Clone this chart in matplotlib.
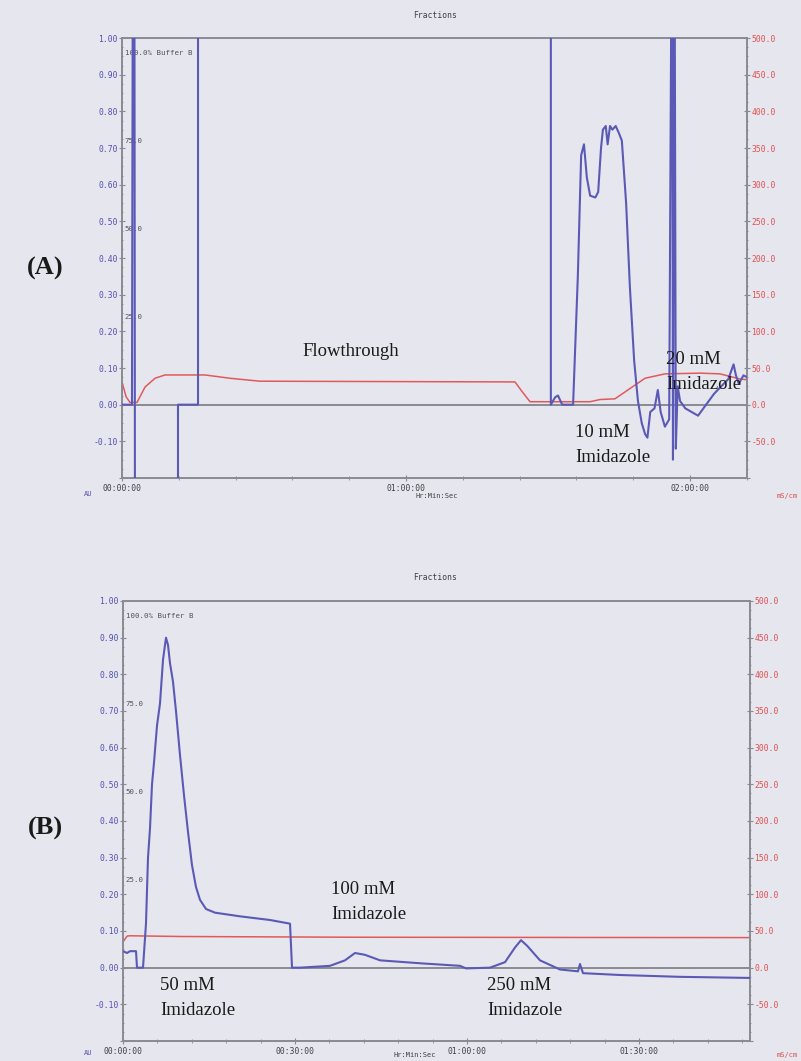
import matplotlib
matplotlib.use('Agg')
import matplotlib.pyplot as plt
from matplotlib.ticker import MultipleLocator, FuncFormatter

# ---------------- Data ----------------
# Panel A: UV trace (time in minutes, absorbance AU)
a_uv_time = [0, 2.11, 2.32, 2.6, 2.75, 3.8, 11.83, 11.83, 16.06, 16.06, 90.6, 90.6, 91.5, 92.1, 93.0,
             95.3, 96.3, 97.0, 97.6, 98.2, 98.9, 100.0, 100.6, 101.2, 101.6, 102.2, 102.6, 103.1,
             103.6, 104.3, 105.0, 105.6, 106.5, 107.3, 108.2, 109.0, 109.8, 110.5, 111.0, 111.6,
             112.5, 113.2, 113.8, 114.7, 115.6, 116.2, 116.4, 116.7, 117.0, 117.4, 117.9, 119.0,
             121.7, 125.1, 128.1, 129.2, 129.7, 130.3, 131.3, 132.0]
a_uv = [0.0, 0.0, 1.5, 1.5, -0.5, -0.5, -0.5, 0.0, 0.0, 1.5, 1.5, 0.0, 0.02, 0.025, 0.0,
        0.0, 0.35, 0.68, 0.71, 0.62, 0.57, 0.565, 0.58, 0.70, 0.75, 0.76, 0.71, 0.76,
        0.75, 0.76, 0.74, 0.72, 0.55, 0.32, 0.12, 0.01, -0.05, -0.08, -0.09, -0.02,
        -0.01, 0.04, -0.02, -0.06, -0.04, 1.5, -0.15, 1.5, -0.12, 0.05, 0.01, -0.01,
        -0.03, 0.03, 0.07, 0.11, 0.08, 0.057, 0.08, 0.075]
# Panel A: conductivity trace (mS/cm)
a_cond_time = [0, 0.85, 1.69, 3.17, 4.86, 6.97, 9.08, 17.54, 22.82, 29.15, 83.03, 84.51, 86.20,
               98.87, 100.99, 104.15, 107.32, 110.49, 114.72, 122.11, 126.34, 130.56, 132.04]
a_cond = [31, 11, 3, 3, 24, 36, 40.5, 40.5, 36, 32, 31, 18, 4,
          4, 7, 8, 22, 36, 42, 43, 42, 35, 34]

# Panel B: UV trace
b_uv_time = [0, 0.70, 1.22, 2.27, 2.44, 3.49, 4.01, 4.36, 4.71, 5.06, 5.41, 5.93, 6.45, 6.98,
             7.50, 7.85, 8.20, 8.72, 9.24, 9.94, 10.64, 11.34, 12.03, 12.73, 13.43, 14.48,
             16.05, 20.41, 25.64, 29.13, 29.48, 30.87, 36.10, 38.72, 40.47, 42.21, 44.83,
             51.80, 58.78, 59.83, 64.01, 66.63, 68.37, 69.42, 70.47, 72.73, 76.22, 79.36,
             79.71, 80.23, 86.69, 97.15, 109.36]
b_uv = [0.045, 0.04, 0.045, 0.045, 0.0, 0.0, 0.12, 0.30, 0.38, 0.50, 0.56, 0.66, 0.72, 0.84,
        0.90, 0.88, 0.83, 0.78, 0.70, 0.58, 0.47, 0.37, 0.28, 0.22, 0.185, 0.16,
        0.15, 0.14, 0.13, 0.12, 0.0, 0.0, 0.005, 0.02, 0.04, 0.035, 0.02,
        0.012, 0.005, -0.002, 0.0, 0.015, 0.055, 0.075, 0.06, 0.02, -0.005, -0.01,
        0.01, -0.015, -0.02, -0.025, -0.028]
# Panel B: conductivity trace
b_cond_time = [0, 0.7, 1.2, 10.0, 40.0, 80.0, 109.36]
b_cond = [35, 43, 43.5, 42.5, 41.5, 41.2, 41]

pct_labels = ["100.0% Buffer B", "75.0", "50.0", "25.0"]
pct_values = [100, 75, 50, 25]

# ---------------- Style ----------------
BG = '#e6e6ef'
BLUE = '#5a5ab6'
RED = '#e05a5a'
GRAY = '#8a8a92'
W, H = 801, 1061
TICKFS = 5.8

fig = plt.figure(figsize=(W / 100, H / 100), dpi=100, facecolor=BG)


def fx(px):
    return px / W


def fy(py):
    return 1 - py / H


def hms(v, pos=None):
    m = int(round(v))
    return "%02d:%02d:00" % (m // 60, m % 60)


def make_panel(left_px, top_px, right_px, bottom_px, xmax, major, minor):
    ax = fig.add_axes([fx(left_px), fy(bottom_px), fx(right_px - left_px),
                       (bottom_px - top_px) / H])
    ax.set_facecolor(BG)
    ax.set_xlim(0, xmax)
    ax.set_ylim(-0.2, 1.0)
    ax.yaxis.set_major_locator(MultipleLocator(0.1))
    ax.yaxis.set_minor_locator(MultipleLocator(0.025))
    ax.yaxis.set_major_formatter(FuncFormatter(
        lambda v, p: "" if v < -0.15 else "%.2f" % (0 if abs(v) < 1e-9 else v)))
    ax.xaxis.set_major_locator(MultipleLocator(major))
    ax.xaxis.set_minor_locator(MultipleLocator(minor))
    ax.xaxis.set_major_formatter(FuncFormatter(hms))
    for s in ax.spines.values():
        s.set_color(GRAY)
        s.set_linewidth(1.4)
    ax.tick_params(axis='y', which='both', direction='inout', colors=GRAY,
                   labelcolor='#5050b0', labelsize=TICKFS, pad=1, length=4)
    ax.tick_params(axis='y', which='minor', length=2)
    ax.tick_params(axis='x', which='both', direction='inout', colors=GRAY,
                   labelcolor='#404040', labelsize=TICKFS, pad=2, length=4)
    ax.tick_params(axis='x', which='minor', length=3)
    for lab in ax.get_xticklabels() + ax.get_yticklabels():
        lab.set_family('DejaVu Sans Mono')
    ax.axhline(0, color=GRAY, lw=1.4, zorder=1)
    ax2 = ax.twinx()
    ax2.set_ylim(-100, 500)
    ax2.yaxis.set_major_locator(MultipleLocator(50))
    ax2.yaxis.set_minor_locator(MultipleLocator(12.5))
    ax2.yaxis.set_major_formatter(FuncFormatter(
        lambda v, p: "" if v < -75 else "%.1f" % (0 if abs(v) < 1e-9 else v)))
    ax2.tick_params(axis='y', which='both', direction='inout', colors=GRAY,
                    labelcolor='#e05050', labelsize=TICKFS, pad=1, length=4)
    ax2.tick_params(axis='y', which='minor', length=2)
    for lab in ax2.get_yticklabels():
        lab.set_family('DejaVu Sans Mono')
    for s in ax2.spines.values():
        s.set_visible(False)
    # percent buffer B inner labels
    for lbl, v in zip(pct_labels, pct_values):
        ax.text(0.004, v * 0.0096, lbl, transform=ax.get_yaxis_transform(),
                fontsize=5.3, color='#505058', va='center', ha='left',
                family='DejaVu Sans Mono')
    return ax, ax2


serif = 'Liberation Serif'

# ---------------- Panel A ----------------
axA, axA2 = make_panel(122, 38, 747, 478, 132.04, 60, 12)
axA2.plot(a_cond_time, a_cond, color=RED, lw=1.1, zorder=2)
axA.plot(a_uv_time, a_uv, color=BLUE, lw=1.5, zorder=3)
axA.set_zorder(axA2.get_zorder() + 1)
axA.patch.set_visible(False)
axA2.patch.set_facecolor(BG)

# ---------------- Panel B ----------------
axB, axB2 = make_panel(123, 601, 750, 1041, 109.36, 30, 6)
axB2.plot(b_cond_time, b_cond, color=RED, lw=1.1, zorder=2)
axB.plot(b_uv_time, b_uv, color=BLUE, lw=1.5, zorder=3)
axB.set_zorder(axB2.get_zorder() + 1)
axB.patch.set_visible(False)
axB2.patch.set_facecolor(BG)

# ---------------- Texts ----------------
small = dict(fontsize=5.0, family='DejaVu Sans Mono')
for top, ylab, xlab in ((0, 496, 437), (563, 1055, 415)):
    fig.text(fx(435), fy(15 + top), "Fractions", ha='center', va='center', color='#404040',
             fontsize=5.8, family='DejaVu Sans Mono')
    fig.text(fx(88), fy(ylab - 2), "AU", ha='center', va='center', color='#5050b0', **small)
    fig.text(fx(xlab), fy(ylab), "Hr:Min:Sec", ha='center', va='center',
             color='#404040', **small)
    fig.text(fx(798), fy(ylab), "mS/cm", ha='right', va='center', color='#e05050', **small)

big = dict(family=serif, fontsize=19, fontweight='bold', color='#1a1a1a')
fig.text(fx(45), fy(268), "(A)", ha='center', va='center', **big)
fig.text(fx(45), fy(828), "(B)", ha='center', va='center', **big)

ann = dict(family=serif, fontsize=13.5, color='#1a1a1a', ha='left', va='center', linespacing=1.6)
fig.text(fx(302), fy(352), "Flowthrough", **ann)
fig.text(fx(575), fy(445), "10 mM\nImidazole", **ann)
fig.text(fx(666), fy(372), "20 mM\nImidazole", **ann)
fig.text(fx(331), fy(902), "100 mM\nImidazole", **ann)
fig.text(fx(160), fy(998), "50 mM\nImidazole", **ann)
fig.text(fx(487), fy(998), "250 mM\nImidazole", **ann)

fig.savefig('out.png', dpi=100, facecolor=BG)
